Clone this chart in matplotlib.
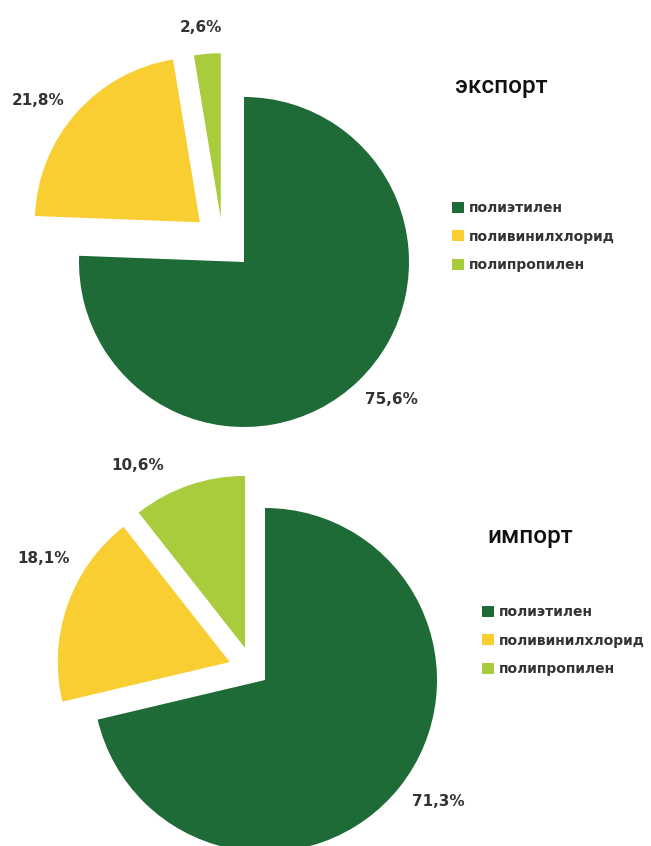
import numpy as np
import matplotlib.pyplot as plt

# data
materials = ['полиэтилен', 'поливинилхлорид', 'полипропилен']
export_share = [75.6, 21.8, 2.6]
import_share = [71.3, 18.1, 10.6]

colors = ['#1f6b37', '#f9ce33', '#a8cc3c']
W, H = 651, 846


def pct(v):
	return ('%.1f%%' % v).replace('.', ',')


def draw_pie(ax, values, center, radius, shifts, lab_pos, title, title_xy, leg_anchor):
	wedges, _ = ax.pie(values, colors=colors, startangle=90, counterclock=False,
		radius=radius, center=center, wedgeprops=dict(linewidth=0))

	for w, (d, a), (ld, la), v in zip(wedges, shifts, lab_pos, values):
		cx = center[0] + d * radius * np.cos(np.radians(a))
		cy = center[1] + d * radius * np.sin(np.radians(a))
		w.set_center((cx, cy))
		ax.text(cx + ld * radius * np.cos(np.radians(la)),
			cy + ld * radius * np.sin(np.radians(la)),
			pct(v), ha='center', va='center', fontsize=11, fontweight='bold', color='#333333')

	ax.text(title_xy[0], title_xy[1], title, ha='left', va='center', fontsize=17.5,
		color='#111111', family=['Roboto', 'DejaVu Sans'], fontweight='medium')

	leg = plt.gcf().legend(wedges, materials, loc='upper left', bbox_to_anchor=leg_anchor,
		frameon=False, handlelength=0.85, handleheight=0.85, handletextpad=0.4,
		labelspacing=1.05, borderpad=0, borderaxespad=0,
		prop=dict(weight='bold', size=10))
	for t in leg.get_texts():
		t.set_color('#333333')


fig = plt.figure(figsize=(W / 100, H / 100), dpi=100)
ax = fig.add_axes([0, 0, 1, 1])

#	export
draw_pie(ax, export_share, (244, H - 262), 165,
	[(0, 0), (0.36, 138), (0.30, 118)],
	[(1.22, -43), (1.23, 143), (1.16, 96)],
	'экспорт', (455, H - 86), (452 / W, 1 - 201 / H))

#	import
draw_pie(ax, import_share, (265, H - 680), 172,
	[(0, 0), (0.23, 153), (0.22, 122)],
	[(1.23, -35), (1.24, 151), (1.23, 120.5)],
	'импорт', (487, H - 537), (482 / W, 1 - 605 / H))

ax.set_xlim(0, W)
ax.set_ylim(0, H)
ax.set_axis_off()

fig.savefig('out.png', dpi=100)
